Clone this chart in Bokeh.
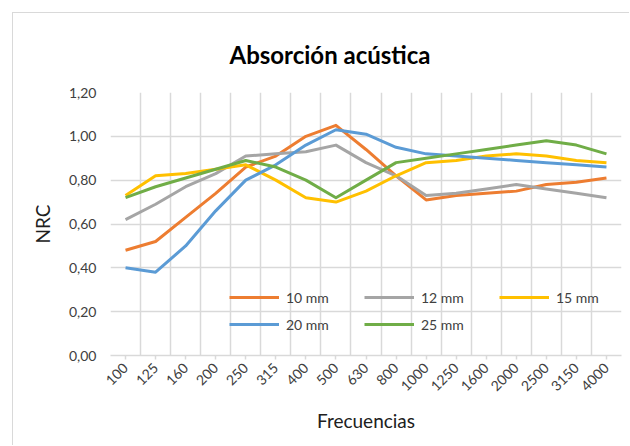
from math import pi
from bokeh.plotting import figure
from bokeh.models import (Range1d, FixedTicker, CustomJSTickFormatter, Legend,
                          LegendItem, Title)
from bokeh.embed import file_html
from bokeh.resources import INLINE

freqs = ["100", "125", "160", "200", "250", "315", "400", "500", "630", "800",
         "1000", "1250", "1600", "2000", "2500", "3150", "4000"]
mm10 = [0.48, 0.52, 0.63, 0.74, 0.86, 0.91, 1.00, 1.05, 0.94, 0.82, 0.71, 0.73, 0.74, 0.75, 0.78, 0.79, 0.81]
mm12 = [0.62, 0.69, 0.77, 0.83, 0.91, 0.92, 0.93, 0.96, 0.88, 0.82, 0.73, 0.74, 0.76, 0.78, 0.76, 0.74, 0.72]
mm15 = [0.73, 0.82, 0.83, 0.85, 0.87, 0.80, 0.72, 0.70, 0.75, 0.82, 0.88, 0.89, 0.91, 0.92, 0.91, 0.89, 0.88]
mm20 = [0.40, 0.38, 0.50, 0.66, 0.80, 0.87, 0.96, 1.03, 1.01, 0.95, 0.92, 0.91, 0.90, 0.89, 0.88, 0.87, 0.86]
mm25 = [0.72, 0.77, 0.81, 0.85, 0.89, 0.86, 0.80, 0.72, 0.80, 0.88, 0.90, 0.92, 0.94, 0.96, 0.98, 0.96, 0.92]
series_names = ["10 mm", "12 mm", "15 mm", "20 mm", "25 mm"]
series_colors = ["#ED7D31", "#A5A5A5", "#FFC000", "#5B9BD5", "#70AD47"]
yticks = [0.0, 0.2, 0.4, 0.6, 0.8, 1.0, 1.2]

FONT = "Lato"
GRID = "#d9d9d9"

n = len(freqs)
xs = [i + 0.5 for i in range(n)]

p = figure(frame_width=511, frame_height=263,
           x_range=Range1d(0, n), y_range=Range1d(0, 1.2),
           output_backend="svg", toolbar_location=None,
           min_border_left=97, min_border_top=79, min_border_right=8,
           min_border_bottom=90)
p.margin = (12, 0, 0, 12)
p.styles = {"border-left": "1.5px solid #d9d9d9", "border-top": "1.5px solid #d9d9d9"}
p.outline_line_color = None
p.background_fill_color = "white"
p.border_fill_color = "white"

p.title = Title(text="Absorción acústica", align="left", offset=119,
                text_font=FONT, text_font_size="24px", text_font_style="bold",
                text_color="#000000", standoff=48)

renderers = []
for vals, col in zip([mm10, mm12, mm15, mm20, mm25], series_colors):
    r = p.line(xs, vals, line_color=col, line_width=3, line_join="round")
    renderers.append(r)

# axes
p.xaxis.ticker = FixedTicker(ticks=xs)
p.xaxis.formatter = CustomJSTickFormatter(args=dict(labels=freqs),
                                          code="return labels[Math.floor(tick)];")
p.xaxis.major_label_orientation = pi / 4
p.xaxis.axis_line_color = GRID
p.xaxis.axis_line_width = 1.5
p.xaxis.major_tick_line_color = GRID
p.xaxis.major_tick_line_width = 1.5
p.xaxis.major_tick_in = 0
p.xaxis.major_tick_out = 4
p.xaxis.minor_tick_line_color = None
p.xaxis.major_label_standoff = 6
p.xaxis.axis_label = "Frecuencias"
p.xaxis.axis_label_standoff = 10

p.yaxis.ticker = FixedTicker(ticks=yticks)
p.yaxis.formatter = CustomJSTickFormatter(code="return tick.toFixed(2).replace('.', ',');")
p.yaxis.axis_line_color = None
p.yaxis.major_tick_line_color = None
p.yaxis.minor_tick_line_color = None
p.yaxis.major_tick_out = 0
p.yaxis.major_tick_in = 0
p.yaxis.major_label_standoff = 14
p.yaxis.axis_label = "NRC"
p.yaxis.axis_label_standoff = 12

for ax in (p.xaxis, p.yaxis):
    ax.major_label_text_font = FONT
    ax.major_label_text_font_size = "14px"
    ax.major_label_text_color = "#404040"
    ax.axis_label_text_font = FONT
    ax.axis_label_text_font_size = "19px"
    ax.axis_label_text_font_style = "normal"
    ax.axis_label_text_color = "#202020"

p.xgrid.ticker = FixedTicker(ticks=list(range(n + 1)))
p.ygrid.ticker = FixedTicker(ticks=yticks)
for g in (p.xgrid, p.ygrid):
    g.grid_line_color = GRID
    g.grid_line_width = 1.5

def make_legend(idx, loc):
    items = [LegendItem(label=series_names[i], renderers=[renderers[i]]) for i in idx]
    lg = Legend(items=items, orientation="horizontal", location=loc,
                glyph_width=50, glyph_height=20, label_height=20, label_width=78,
                label_standoff=7, spacing=0, padding=0, margin=0,
                border_line_color=None, background_fill_alpha=0,
                label_text_font=FONT, label_text_font_size="14px",
                label_text_color="#404040")
    p.add_layout(lg, "center")

make_legend([0, 1, 2], (119, 48))
make_legend([3, 4], (119, 21))

open("out.html", "w").write(file_html(p, INLINE))
